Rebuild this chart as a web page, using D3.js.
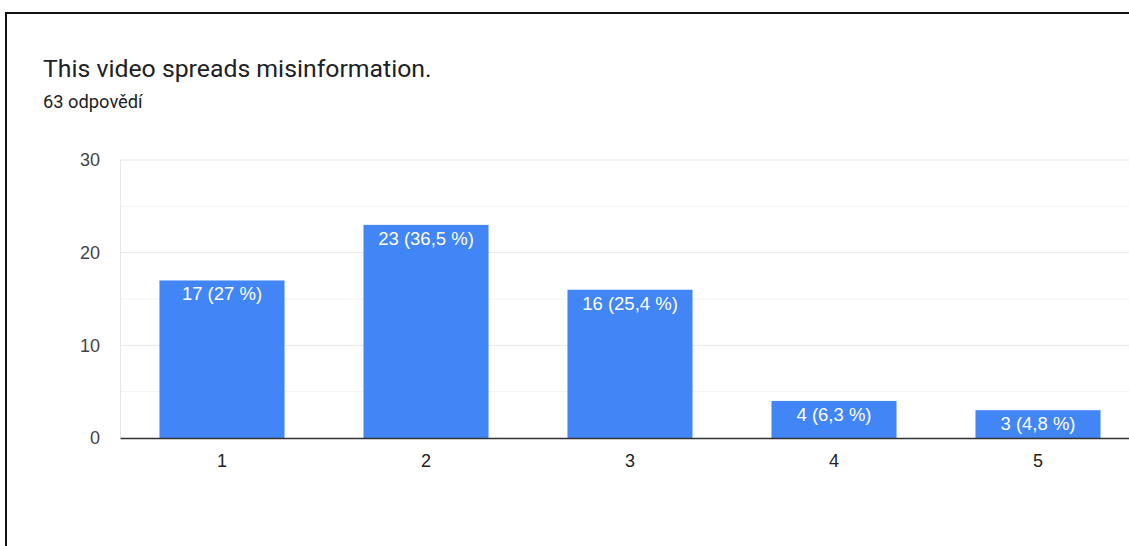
<!DOCTYPE html>
<html><head><meta charset="utf-8">
<script src="https://cdn.jsdelivr.net/npm/d3@7"></script>
<style>
html,body{margin:0;padding:0;background:#fff;overflow:hidden;}
svg{display:block;font-family:Roboto,Arial,sans-serif;}
</style></head>
<body>
<script>
const categories = ["1","2","3","4","5"];
const counts = [17, 23, 16, 4, 3];
const labels = ["17 (27 %)", "23 (36,5 %)", "16 (25,4 %)", "4 (6,3 %)", "3 (4,8 %)"];
const yTicks = [0, 10, 20, 30];
const yMinor = [5, 15, 25];
const title = "This video spreads misinformation.";
const subtitle = "63 odpovědí";

const W = 1129, H = 546;
const AX = "'Liberation Sans',Arial,sans-serif";
const svg = d3.select("body").append("svg").attr("width", W).attr("height", H);

// outer frame
svg.append("rect").attr("x", 6).attr("y", 13).attr("width", W + 20).attr("height", H + 20)
  .attr("fill", "#fff").attr("stroke", "#111").attr("stroke-width", 2);

svg.append("text").attr("x", 43).attr("y", 77).attr("font-size", 24.8).attr("fill", "#202124").text(title);
svg.append("text").attr("x", 43).attr("y", 108).attr("font-size", 18.3).attr("fill", "#202124").text(subtitle);

const x = d3.scaleBand().domain(categories).range([120, 1140]).paddingInner(0.387).paddingOuter(0.1935);
const y = d3.scaleLinear().domain([0, 30]).range([438, 160]);

const g = svg.append("g");
// minor gridlines
g.selectAll("line.minor").data(yMinor).join("line")
  .attr("x1", 120).attr("x2", 1140).attr("y1", d => y(d)).attr("y2", d => y(d))
  .attr("stroke", "#f3f3f3").attr("stroke-width", 1);
// major gridlines
g.selectAll("line.major").data(yTicks.filter(d => d > 0)).join("line")
  .attr("x1", 120).attr("x2", 1140).attr("y1", d => y(d)).attr("y2", d => y(d))
  .attr("stroke", "#e6e6e6").attr("stroke-width", 1);
// left plot edge
g.append("line").attr("x1", 120.5).attr("x2", 120.5).attr("y1", y(30)).attr("y2", y(0))
  .attr("stroke", "#e6e6e6");

// y axis labels
const yAxis = d3.axisLeft(y).tickValues(yTicks).tickSize(0).tickPadding(20);
const ya = svg.append("g").attr("transform", "translate(120,0)").call(yAxis);
ya.select(".domain").remove();
ya.selectAll("text").attr("font-size", 18).attr("fill", "#444").attr("font-family", AX);

// bars
g.selectAll("rect.bar").data(counts).join("rect")
  .attr("x", (d, i) => x(categories[i])).attr("width", x.bandwidth())
  .attr("y", d => y(d)).attr("height", d => y(0) - y(d))
  .attr("fill", "#4285f4");

g.selectAll("text.lbl").data(counts).join("text")
  .attr("x", (d, i) => x(categories[i]) + x.bandwidth() / 2)
  .attr("y", d => y(d) + 20)
  .attr("text-anchor", "middle").attr("font-size", 18.5).attr("fill", "#fff")
  .attr("font-family", AX)
  .text((d, i) => labels[i]);

// x axis
const xAxis = d3.axisBottom(x).tickSize(0).tickPadding(16);
const xa = svg.append("g").attr("transform", "translate(0,438)").call(xAxis);
xa.select(".domain").attr("stroke", "#333").attr("stroke-width", 1.5);
xa.selectAll("text").attr("font-size", 18).attr("fill", "#222").attr("font-family", AX);
</script>
</body></html>
